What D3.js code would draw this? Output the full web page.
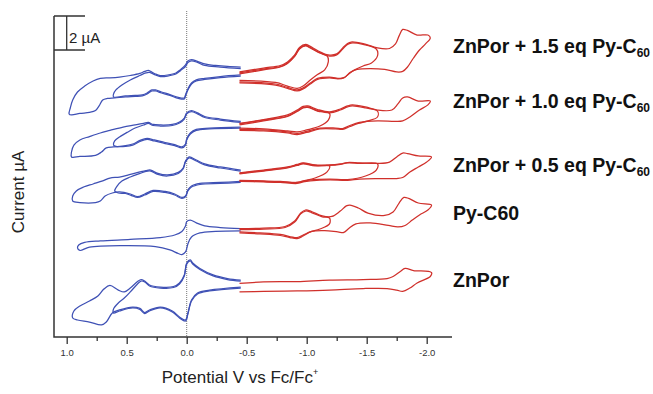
<!DOCTYPE html>
<html>
<head>
<meta charset="utf-8">
<script src="https://cdn.jsdelivr.net/npm/d3@7"></script>
<style>
body { margin: 0; background: #fff; }
text { font-family: "Liberation Sans", Arial, sans-serif; }
</style>
</head>
<body>
<div id="chart"></div>
<script>
// potential (V vs Fc/Fc+), current (uA, traces stacked)
const majorTicks = [1.0, 0.5, 0.0, -0.5, -1.0, -1.5, -2.0]
const minorTicks = [0.75, 0.25, -0.25, -0.75, -1.25, -1.75]
const traceNames = ["ZnPor + 1.5 eq Py-C", "ZnPor + 1.0 eq Py-C", "ZnPor + 0.5 eq Py-C", "Py-C60", "ZnPor"]
const traceSubs = ["60", "60", "60", "", ""]

// oxidation side (blue), two scans per trace where visible
const blue15a = [[-0.45,15.88],[-0.34,15.91],[-0.24,15.97],[-0.15,16.06],[-0.09,16.21],[-0.04,16.32],[-0.01,16.24],[0.01,16.0],[0.05,15.74],[0.09,15.53],[0.16,15.41],[0.22,15.38],[0.26,15.47],[0.30,15.62],[0.32,15.68],[0.35,15.62],[0.39,15.5],[0.47,15.38],[0.56,15.29],[0.64,15.24],[0.72,15.21],[0.78,15.06],[0.85,14.76],[0.91,14.41],[0.95,13.94],[0.97,13.47],[0.98,13.12],[0.96,13.06],[0.89,13.15],[0.81,13.21],[0.76,13.32],[0.73,13.59],[0.70,13.94],[0.66,14.03],[0.60,14.06],[0.51,14.12],[0.43,14.15],[0.37,14.18],[0.33,14.29],[0.29,14.47],[0.26,14.47],[0.21,14.35],[0.14,14.21],[0.07,14.03],[0.02,14.0],[0.01,14.18],[-0.01,14.53],[-0.04,14.88],[-0.08,15.06],[-0.15,15.15],[-0.28,15.26],[-0.45,15.35]]
const blue15b = [[-0.45,15.79],[-0.28,15.88],[-0.15,15.97],[-0.09,16.15],[-0.04,16.24],[-0.01,16.15],[0.01,15.91],[0.05,15.68],[0.09,15.47],[0.16,15.35],[0.22,15.32],[0.26,15.41],[0.31,15.56],[0.34,15.53],[0.39,15.38],[0.47,15.12],[0.54,14.82],[0.59,14.53],[0.61,14.29],[0.61,14.12],[0.51,14.18],[0.43,14.21],[0.37,14.24],[0.33,14.35],[0.29,14.53],[0.26,14.53],[0.21,14.41],[0.14,14.26],[0.07,14.09],[0.02,14.06],[0.01,14.24],[-0.01,14.59],[-0.04,14.94],[-0.08,15.12],[-0.15,15.21],[-0.28,15.32],[-0.45,15.41]]
const blue10a = [[-0.45,12.68],[-0.28,12.82],[-0.15,12.97],[-0.09,13.18],[-0.04,13.32],[0.00,13.18],[0.02,12.88],[0.06,12.65],[0.12,12.5],[0.22,12.47],[0.28,12.5],[0.32,12.62],[0.36,12.56],[0.43,12.47],[0.53,12.35],[0.64,12.15],[0.72,12.0],[0.81,11.79],[0.89,11.59],[0.94,11.29],[0.96,10.88],[0.96,10.59],[0.89,10.62],[0.76,10.68],[0.71,10.88],[0.67,11.12],[0.61,11.18],[0.51,11.21],[0.45,11.29],[0.39,11.5],[0.33,11.62],[0.27,11.53],[0.18,11.38],[0.10,11.26],[0.04,11.12],[0.01,11.29],[0.00,11.59],[-0.03,11.94],[-0.08,12.15],[-0.19,12.24],[-0.45,12.29]]
const blue10b = [[-0.45,12.62],[-0.28,12.76],[-0.15,12.91],[-0.09,13.12],[-0.04,13.26],[0.00,13.12],[0.02,12.82],[0.06,12.59],[0.12,12.44],[0.22,12.41],[0.28,12.44],[0.32,12.56],[0.36,12.47],[0.43,12.29],[0.49,12.06],[0.56,11.76],[0.60,11.53],[0.61,11.29],[0.59,11.21],[0.51,11.26],[0.45,11.35],[0.39,11.56],[0.33,11.68],[0.27,11.59],[0.18,11.44],[0.10,11.32],[0.04,11.18],[0.01,11.35],[0.00,11.65],[-0.03,12.0],[-0.08,12.21],[-0.19,12.29],[-0.45,12.35]]
const blue05a = [[-0.45,9.82],[-0.28,10.0],[-0.15,10.18],[-0.08,10.41],[-0.02,10.59],[0.01,10.35],[0.03,9.94],[0.07,9.68],[0.16,9.53],[0.24,9.62],[0.30,9.82],[0.34,9.79],[0.39,9.71],[0.47,9.56],[0.56,9.41],[0.64,9.35],[0.70,9.18],[0.78,9.0],[0.86,8.82],[0.92,8.59],[0.95,8.29],[0.95,8.0],[0.89,7.91],[0.76,7.91],[0.72,8.0],[0.68,8.29],[0.62,8.47],[0.56,8.53],[0.47,8.41],[0.41,8.26],[0.35,8.41],[0.28,8.62],[0.18,8.56],[0.10,8.41],[0.04,8.21],[0.01,8.29],[-0.01,8.65],[-0.04,8.88],[-0.11,9.03],[-0.28,9.09],[-0.45,9.15]]
const blue05b = [[-0.45,9.76],[-0.28,9.94],[-0.15,10.12],[-0.08,10.35],[-0.02,10.53],[0.01,10.29],[0.03,9.88],[0.07,9.62],[0.16,9.47],[0.24,9.56],[0.30,9.76],[0.34,9.74],[0.39,9.62],[0.47,9.41],[0.54,9.18],[0.58,8.88],[0.60,8.59],[0.57,8.47],[0.51,8.44],[0.46,8.32],[0.41,8.21],[0.35,8.35],[0.28,8.56],[0.18,8.5],[0.10,8.35],[0.04,8.15],[0.01,8.24],[-0.01,8.59],[-0.04,8.82],[-0.11,8.97],[-0.28,9.03],[-0.45,9.09]]
const bluePy = [[-0.45,6.38],[-0.28,6.44],[-0.15,6.53],[-0.08,6.71],[-0.03,6.88],[0.00,6.79],[0.01,6.53],[0.04,6.21],[0.10,6.0],[0.22,5.85],[0.47,5.74],[0.72,5.65],[0.85,5.56],[0.90,5.41],[0.91,5.24],[0.89,5.09],[0.81,5.29],[0.53,5.38],[0.26,5.32],[0.14,5.12],[0.07,4.91],[0.04,4.85],[0.01,5.0],[-0.01,5.47],[-0.04,5.88],[-0.11,6.12],[-0.24,6.21],[-0.45,6.24]]
const blueZn = [[-0.45,3.35],[-0.34,3.44],[-0.22,3.65],[-0.11,4.03],[-0.05,4.35],[-0.03,4.53],[0.00,4.35],[0.02,3.65],[0.06,3.18],[0.11,2.97],[0.22,2.94],[0.31,3.06],[0.35,3.29],[0.38,3.38],[0.41,3.26],[0.47,2.88],[0.52,2.65],[0.57,2.76],[0.64,3.03],[0.69,2.82],[0.74,2.41],[0.81,2.12],[0.89,1.82],[0.94,1.53],[0.95,1.12],[0.91,1.0],[0.81,0.88],[0.71,0.71],[0.67,0.88],[0.62,1.41],[0.56,1.59],[0.45,1.76],[0.39,1.68],[0.35,1.44],[0.31,1.59],[0.22,1.76],[0.12,1.53],[0.06,1.18],[0.01,1.0],[-0.01,1.41],[-0.04,2.18],[-0.09,2.59],[-0.19,2.76],[-0.45,2.94]]
const blueZnB = [[-0.45,3.29],[-0.34,3.38],[-0.22,3.59],[-0.11,3.97],[-0.05,4.29],[-0.03,4.47],[0.00,4.29],[0.02,3.59],[0.06,3.12],[0.11,2.91],[0.22,2.88],[0.31,3.0],[0.35,3.24],[0.38,3.29],[0.41,3.12],[0.47,2.65],[0.52,2.29],[0.57,2.0],[0.61,1.65],[0.61,1.41],[0.56,1.53],[0.45,1.71],[0.39,1.62],[0.35,1.38],[0.31,1.53],[0.22,1.71],[0.12,1.47],[0.06,1.12],[0.01,0.94],[-0.01,1.35],[-0.04,2.12],[-0.09,2.53],[-0.19,2.71],[-0.45,2.88]]

// reduction side (red), scans switched after 1st, 2nd and 3rd wave
const red15c = [[-0.44,15.59],[-0.64,15.82],[-0.78,15.97],[-0.84,16.18],[-0.90,16.59],[-0.94,17.03],[-0.99,17.21],[-1.03,17.09],[-1.09,16.85],[-1.18,16.59],[-1.25,16.65],[-1.30,17.0],[-1.34,17.26],[-1.37,17.35],[-1.47,17.26],[-1.59,17.0],[-1.69,16.97],[-1.74,17.24],[-1.77,17.71],[-1.80,18.09],[-1.84,18.03],[-1.92,17.76],[-2.01,17.76],[-2.03,17.59],[-1.99,17.24],[-1.94,16.88],[-1.89,16.41],[-1.84,15.88],[-1.80,15.62],[-1.75,15.59],[-1.65,15.74],[-1.53,15.79],[-1.42,15.74],[-1.36,15.56],[-1.32,15.29],[-1.28,15.21],[-1.19,15.29],[-1.09,15.21],[-1.03,14.94],[-0.97,14.65],[-0.92,14.53],[-0.84,14.68],[-0.74,14.88],[-0.44,15.0]]
const red15a = [[-0.44,15.47],[-0.64,15.71],[-0.78,15.88],[-0.84,16.09],[-0.90,16.5],[-0.94,16.94],[-0.99,17.12],[-1.03,17.0],[-1.09,16.76],[-1.17,16.53],[-1.18,16.18],[-1.15,15.71],[-1.09,15.44],[-1.03,15.12],[-0.97,14.76],[-0.92,14.62],[-0.84,14.76],[-0.74,14.97],[-0.44,15.09]]
const red15b = [[-0.44,15.53],[-0.64,15.76],[-0.78,15.91],[-0.84,16.12],[-0.90,16.53],[-0.94,16.97],[-0.99,17.15],[-1.03,17.03],[-1.09,16.79],[-1.18,16.53],[-1.25,16.59],[-1.30,16.94],[-1.34,17.21],[-1.37,17.29],[-1.47,17.21],[-1.58,16.94],[-1.59,16.53],[-1.54,16.12],[-1.47,15.94],[-1.40,15.71],[-1.35,15.47],[-1.31,15.24],[-1.26,15.18],[-1.19,15.24],[-1.09,15.15],[-1.03,14.88],[-0.97,14.59],[-0.92,14.47],[-0.84,14.62],[-0.74,14.82],[-0.44,14.94]]
const red10c = [[-0.44,12.56],[-0.64,12.79],[-0.84,13.06],[-0.92,13.35],[-0.97,13.56],[-1.01,13.59],[-1.09,13.38],[-1.19,13.24],[-1.28,13.41],[-1.34,13.59],[-1.38,13.65],[-1.49,13.53],[-1.59,13.35],[-1.71,13.35],[-1.76,13.71],[-1.80,14.06],[-1.84,14.12],[-1.93,13.88],[-2.03,13.88],[-2.01,13.65],[-1.94,13.35],[-1.86,12.94],[-1.80,12.71],[-1.74,12.68],[-1.59,12.71],[-1.44,12.62],[-1.36,12.44],[-1.30,12.26],[-1.24,12.29],[-1.11,12.29],[-1.00,12.09],[-0.92,11.97],[-0.84,12.06],[-0.64,12.18],[-0.44,12.21]]
const red10a = [[-0.44,12.47],[-0.64,12.71],[-0.84,12.97],[-0.92,13.26],[-0.97,13.47],[-1.01,13.5],[-1.09,13.29],[-1.19,13.15],[-1.18,12.76],[-1.11,12.41],[-1.00,12.18],[-0.92,12.06],[-0.84,12.12],[-0.64,12.24],[-0.44,12.29]]
const red10b = [[-0.44,12.53],[-0.64,12.76],[-0.84,13.0],[-0.92,13.29],[-0.97,13.5],[-1.01,13.53],[-1.09,13.32],[-1.19,13.18],[-1.28,13.35],[-1.34,13.53],[-1.38,13.59],[-1.49,13.47],[-1.59,13.29],[-1.59,12.94],[-1.51,12.71],[-1.43,12.56],[-1.36,12.38],[-1.30,12.21],[-1.24,12.24],[-1.11,12.24],[-1.00,12.03],[-0.92,11.91],[-0.84,12.0],[-0.64,12.12],[-0.44,12.15]]
const red05c = [[-0.44,9.65],[-0.64,9.82],[-0.84,10.0],[-0.92,10.15],[-0.97,10.24],[-1.07,10.12],[-1.19,10.12],[-1.28,10.18],[-1.34,10.26],[-1.44,10.24],[-1.59,10.21],[-1.69,10.29],[-1.75,10.59],[-1.80,10.82],[-1.84,10.79],[-1.93,10.65],[-2.04,10.59],[-2.00,10.29],[-1.93,10.0],[-1.86,9.71],[-1.80,9.38],[-1.75,9.32],[-1.59,9.32],[-1.44,9.29],[-1.34,9.21],[-1.19,9.24],[-1.03,9.18],[-0.97,9.12],[-0.92,9.03],[-0.78,9.09],[-0.64,9.12],[-0.44,9.15]]
const red05a = [[-0.44,9.59],[-0.64,9.76],[-0.84,9.94],[-0.92,10.09],[-0.97,10.18],[-1.07,10.06],[-1.19,10.06],[-1.17,9.71],[-1.07,9.35],[-0.97,9.18],[-0.92,9.09],[-0.78,9.15],[-0.64,9.18],[-0.44,9.21]]
const red05b = [[-0.44,9.62],[-0.64,9.79],[-0.84,9.97],[-0.92,10.12],[-0.97,10.21],[-1.07,10.09],[-1.19,10.09],[-1.28,10.15],[-1.34,10.24],[-1.44,10.21],[-1.59,10.18],[-1.58,9.82],[-1.49,9.47],[-1.34,9.26],[-1.19,9.29],[-1.03,9.24],[-0.92,9.09],[-0.64,9.15],[-0.44,9.18]]
const redPy = [[-0.44,6.38],[-0.64,6.41],[-0.82,6.5],[-0.90,6.82],[-0.95,7.29],[-0.99,7.47],[-1.04,7.38],[-1.13,7.12],[-1.21,7.09],[-1.28,7.41],[-1.33,7.71],[-1.36,7.76],[-1.43,7.59],[-1.51,7.29],[-1.65,7.15],[-1.72,7.35],[-1.77,7.88],[-1.81,8.21],[-1.85,8.15],[-1.93,7.88],[-2.04,7.76],[-2.01,7.47],[-1.94,7.18],[-1.88,6.88],[-1.82,6.56],[-1.76,6.47],[-1.68,6.56],[-1.53,6.71],[-1.41,6.65],[-1.35,6.38],[-1.31,6.15],[-1.26,6.18],[-1.15,6.26],[-1.04,6.21],[-0.97,5.94],[-0.92,5.79],[-0.86,5.85],[-0.78,5.97],[-0.61,6.06],[-0.44,6.12]]
const redPyA = [[-0.44,6.32],[-0.64,6.35],[-0.82,6.44],[-0.90,6.76],[-0.95,7.24],[-0.99,7.41],[-1.04,7.32],[-1.13,7.06],[-1.19,7.0],[-1.19,6.65],[-1.11,6.35],[-1.03,6.18],[-0.97,6.0],[-0.92,5.85],[-0.78,6.03],[-0.61,6.12],[-0.44,6.18]]
const redZn = [[-0.44,3.15],[-0.64,3.24],[-0.92,3.26],[-1.19,3.35],[-1.47,3.38],[-1.67,3.44],[-1.72,3.56],[-1.78,3.85],[-1.82,4.03],[-1.89,3.91],[-2.04,3.79],[-2.03,3.56],[-1.92,3.18],[-1.86,2.88],[-1.80,2.68],[-1.75,2.76],[-1.67,2.85],[-1.47,2.85],[-1.19,2.76],[-0.92,2.71],[-0.64,2.68],[-0.44,2.65]]

const blueScans = [blue15a, blue15b, blue10a, blue10b, blue05a, blue05b, bluePy, blueZn, blueZnB]
const redScans = [red15c, red15a, red15b, red10c, red10a, red10b, red05c, red05a, red05b, redPy, redPyA, redZn]

let svg = d3.select("#chart").append("svg")
    .attr("width", 653)
    .attr("height", 394)

let x = d3.scaleLinear().domain([1.1, -2.2]).range([54.7, 450.7])
let y = d3.scaleLinear().domain([0, 18.88]).range([337, 16])

let line = d3.line()
    .x(d => x(d[0]))
    .y(d => y(d[1]))
    .curve(d3.curveCatmullRom.alpha(0.5))

// zero line
svg.append("line")
    .attr("x1", x(0)).attr("x2", x(0))
    .attr("y1", 11).attr("y2", 337)
    .attr("stroke", "#777")
    .attr("stroke-width", 1)
    .attr("stroke-dasharray", "1,1")

svg.append("g").selectAll("path")
    .data(blueScans)
    .join("path")
    .attr("d", line)
    .attr("fill", "none")
    .attr("stroke", "#3f51b5")
    .attr("stroke-width", 1.25)

svg.append("g").selectAll("path")
    .data(redScans)
    .join("path")
    .attr("d", line)
    .attr("fill", "none")
    .attr("stroke", "#d0302b")
    .attr("stroke-width", 1.25)

// frame
svg.append("path")
    .attr("d", `M54,${y(18.88)}V337H452`)
    .attr("fill", "none")
    .attr("stroke", "#333")
    .attr("stroke-width", 1.5)

// 2 uA scale bar
let barTop = y(18.88), barBottom = y(16.88)
svg.append("path")
    .attr("d", `M54,${barTop}H85M54,${barBottom}H85M66.7,${barTop}V${barBottom}`)
    .attr("fill", "none")
    .attr("stroke", "#333")
    .attr("stroke-width", 1.3)
svg.append("text")
    .attr("x", 69).attr("y", 43)
    .attr("font-size", 15)
    .attr("fill", "#222")
    .text("2 µA")

// bottom axis
let axis = svg.append("g").attr("transform", "translate(0,337)")
axis.call(d3.axisBottom(x).tickValues(majorTicks).tickSize(7).tickSizeOuter(0).tickFormat(d => d.toFixed(1)))
axis.select(".domain").remove()
axis.selectAll(".tick line").attr("stroke", "#333").attr("stroke-width", 1.3)
axis.selectAll(".tick text")
    .attr("font-family", "Liberation Sans, Arial, sans-serif")
    .attr("font-size", 9.5)
    .attr("fill", "#333")
    .attr("dy", "0.95em")

let minor = svg.append("g").attr("transform", "translate(0,337)")
minor.call(d3.axisBottom(x).tickValues(minorTicks).tickSize(4).tickSizeOuter(0).tickFormat(""))
minor.select(".domain").remove()
minor.selectAll(".tick line").attr("stroke", "#333").attr("stroke-width", 1.3)

// axis titles
let xt = svg.append("text")
    .attr("x", 240).attr("y", 383)
    .attr("text-anchor", "middle")
    .attr("font-size", 17)
    .attr("fill", "#222")
xt.append("tspan").text("Potential V vs Fc/Fc")
xt.append("tspan").attr("font-size", 9).attr("dy", -8).text("+")

svg.append("text")
    .attr("transform", "translate(24,192) rotate(-90)")
    .attr("text-anchor", "middle")
    .attr("font-size", 17)
    .attr("fill", "#222")
    .text("Current µA")

// trace labels
const labelY = [53, 108, 172, 220, 287]
traceNames.forEach((name, i) => {
    let t = svg.append("text")
        .attr("x", 453).attr("y", labelY[i])
        .attr("font-size", 19.5)
        .attr("font-weight", "bold")
        .attr("fill", "#111")
    t.append("tspan").text(name)
    if (traceSubs[i]) t.append("tspan").attr("font-size", 12).attr("dy", 4).text(traceSubs[i])
})
</script>
</body>
</html>
